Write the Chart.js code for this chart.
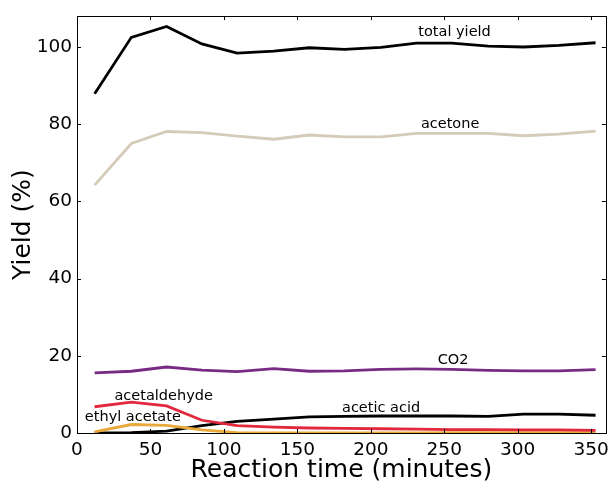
<!DOCTYPE html>
<html>
<head>
<meta charset="utf-8">
<script src="https://cdn.jsdelivr.net/npm/chart.js@4"></script>
<style>
  html, body { margin: 0; padding: 0; background: #fff; }
  #wrap { width: 615px; height: 485px; }
</style>
</head>
<body>
<div id="wrap"><canvas id="myChart" width="615" height="485"></canvas></div>
<script>
    // reaction times (minutes)
    const times = [12, 37, 61, 85, 109, 134, 158, 182, 207, 231, 255, 280, 304, 328, 353];
    const totalYield = [87.9, 102.5, 105.3, 100.8, 98.4, 98.9, 99.8, 99.4, 99.9, 101.0, 101.0, 100.2, 100.0, 100.4, 101.1];
    const acetone = [64.2, 75.0, 78.1, 77.8, 76.9, 76.1, 77.2, 76.7, 76.7, 77.6, 77.6, 77.6, 77.0, 77.4, 78.2];
    const co2 = [15.6, 16.0, 17.1, 16.3, 15.9, 16.7, 16.0, 16.1, 16.5, 16.6, 16.5, 16.2, 16.1, 16.1, 16.4];
    const acetaldehyde = [6.8, 8.0, 7.0, 3.3, 1.9, 1.5, 1.3, 1.2, 1.1, 1.0, 0.9, 0.9, 0.8, 0.8, 0.7];
    const ethylAcetate = [0.3, 2.2, 2.0, 0.8, 0.1, 0.0, 0.0, 0.0, 0.0, 0.0, 0.1, 0.1, 0.1, 0.1, 0.1];
    const aceticAcid = [0.0, 0.1, 0.5, 1.9, 3.0, 3.6, 4.2, 4.3, 4.4, 4.4, 4.4, 4.3, 4.9, 4.9, 4.6];

    const xTicks = [0, 50, 100, 150, 200, 250, 300, 350];
    const yTicks = [0, 20, 40, 60, 80, 100];

    // text labels placed in data coordinates
    const labelNames = ["total yield", "acetone", "CO2", "acetaldehyde", "ethyl acetate", "acetic acid"];
    const labelX = [257, 254, 256, 59, 38, 207];
    const labelY = [103.8, 80.0, 18.8, 9.6, 4.0, 6.5];

    const FONT = "'DejaVu Sans', sans-serif";

    function toPoints(ys) {
        return times.map((t, i) => ({ x: t, y: ys[i] }));
    }

    function makeSet(label, ys, color) {
        return {
            label: label,
            data: toPoints(ys),
            borderColor: color,
            backgroundColor: color,
            borderWidth: 2.8,
            pointRadius: 0,
            tension: 0,
            fill: false
        };
    }

    // matplotlib-ish frame: box on all sides, ticks pointing inward, text labels
    const framePlugin = {
        id: 'frame',
        afterDatasetsDraw(chart) {
            const c = chart.ctx;
            const a = chart.chartArea;
            const xs = chart.scales.x;
            const ys = chart.scales.y;
            c.save();
            c.fillStyle = '#000';
            c.font = "14.5px " + FONT;
            c.textAlign = 'center';
            c.textBaseline = 'middle';
            labelNames.forEach((name, i) => {
                c.fillText(name, xs.getPixelForValue(labelX[i]), ys.getPixelForValue(labelY[i]));
            });
            c.strokeStyle = '#000';
            c.lineWidth = 1;
            c.beginPath();
            xs.ticks.forEach(t => {
                const px = Math.round(xs.getPixelForValue(t.value)) + 0.5;
                c.moveTo(px, a.bottom); c.lineTo(px, a.bottom - 4);
                c.moveTo(px, a.top); c.lineTo(px, a.top + 4);
            });
            ys.ticks.forEach(t => {
                const py = Math.round(ys.getPixelForValue(t.value)) + 0.5;
                c.moveTo(a.left, py); c.lineTo(a.left + 4, py);
                c.moveTo(a.right, py); c.lineTo(a.right - 4, py);
            });
            c.stroke();
            c.strokeRect(Math.round(a.left) + 0.5, Math.round(a.top) + 0.5,
                Math.round(a.right - a.left), Math.round(a.bottom - a.top));
            c.restore();
        }
    };

    var ctx = document.getElementById('myChart').getContext('2d');
    var myChart = new Chart(ctx, {
        type: 'line',
        data: {
            datasets: [
                makeSet('total yield', totalYield, '#000000'),
                makeSet('acetone', acetone, '#d4cbb8'),
                makeSet('CO2', co2, '#782b83'),
                makeSet('acetaldehyde', acetaldehyde, '#e1283c'),
                makeSet('ethyl acetate', ethylAcetate, '#e9a83a'),
                makeSet('acetic acid', aceticAcid, '#000000')
            ]
        },
        options: {
            responsive: false,
            animation: false,
            layout: { padding: { top: 13, right: 7, left: 0, bottom: 0 } },
            plugins: {
                legend: { display: false },
                tooltip: { enabled: false }
            },
            scales: {
                x: {
                    type: 'linear',
                    min: 0,
                    max: 360,
                    afterBuildTicks: s => { s.ticks = xTicks.map(v => ({ value: v })); },
                    afterFit: s => { s.height = 52; },
                    grid: { display: false, drawTicks: false },
                    border: { display: false },
                    ticks: {
                        color: '#000',
                        padding: 6,
                        maxRotation: 0,
                        autoSkip: false,
                        font: { family: FONT, size: 18.5 }
                    },
                    title: {
                        display: true,
                        text: 'Reaction time (minutes)',
                        color: '#000',
                        padding: { top: 0, bottom: 0 },
                        font: { family: FONT, size: 25 }
                    }
                },
                y: {
                    min: 0,
                    max: 108,
                    afterBuildTicks: s => { s.ticks = yTicks.map(v => ({ value: v })); },
                    afterFit: s => { s.width = 77; },
                    grid: { display: false, drawTicks: false },
                    border: { display: false },
                    ticks: {
                        color: '#000',
                        padding: 5,
                        autoSkip: false,
                        font: { family: FONT, size: 18.5 }
                    },
                    title: {
                        display: true,
                        text: 'Yield (%)',
                        color: '#000',
                        padding: { top: 8, bottom: 0 },
                        font: { family: FONT, size: 25 }
                    }
                }
            }
        },
        plugins: [framePlugin]
    });
</script>
</body>
</html>
